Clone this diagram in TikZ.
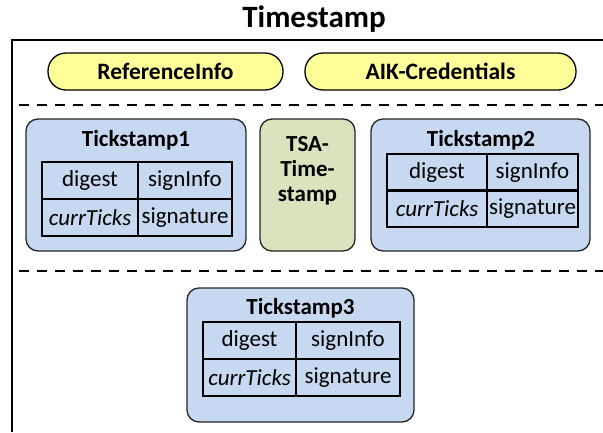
\documentclass[tikz,border=0pt]{standalone}
\usepackage{fontspec}
\setmainfont{Carlito}
\usetikzlibrary{positioning}
\definecolor{pillyellow}{HTML}{FFFF99}
\definecolor{tsblue}{HTML}{C6D9F1}
\definecolor{tsgreen}{HTML}{D7E4BD}
\definecolor{edgegray}{HTML}{262626}
\tikzset{
  frameline/.style={line width=1.8pt, black},
  sepline/.style={line width=2.2pt, black, dash pattern=on 10pt off 8pt},
  pill/.style={draw=black, line width=1.3pt, fill=pillyellow, rounded corners=18pt, inner sep=0pt, font=\fontsize{23.5}{25}\selectfont\bfseries},
  tsbox/.style={draw=edgegray, line width=1.3pt, fill=tsblue, rounded corners=12pt, inner sep=0pt},
  tsagreen/.style={draw=edgegray, line width=1.3pt, fill=tsgreen, rounded corners=12pt, inner sep=0pt},
  boxtitle/.style={inner sep=0pt, font=\fontsize{23}{25}\selectfont\bfseries},
  cell/.style={draw=black, line width=1.3pt, inner sep=0pt, minimum height=37pt, font=\fontsize{23}{25}\selectfont},
  maintitle/.style={inner sep=0pt, font=\fontsize{31}{33}\selectfont\bfseries},
}
\begin{document}
\begin{tikzpicture}[x=1pt, y=-1pt]
\useasboundingbox (0,0) rectangle (603,432);
% title and frame
\node[maintitle] (title) at (314,19) {Timestamp};
\coordinate (ftl) at (12,40);
\coordinate (ftr) at (603,40);
\coordinate (fbl) at (12,432);
\draw[frameline] (ftr) -- (ftl) -- (fbl);
% pills
\node[pill, minimum width=235pt, minimum height=37pt] (ref) at (165.5,71.5) {ReferenceInfo};
\node[pill, minimum width=271pt, minimum height=37pt] (aik) at (440.5,71.5) {AIK-Credentials};
% separators
\coordinate (s1a) at (19,105); \coordinate (s1b) at (603,105);
\coordinate (s2a) at (19,271); \coordinate (s2b) at (603,271);
\draw[sepline] (s1a) -- (s1b);
\draw[sepline] (s2a) -- (s2b);
% Tickstamp1
\node[tsbox, minimum width=220pt, minimum height=132pt] (ts1) at (136,185) {};
\node[boxtitle] (ts1t) at (136,140) {Tickstamp1};
\node[cell, minimum width=96pt] (ts1a) at (90,180.5) {digest};
\node[cell, minimum width=94pt] (ts1b) at (185,180.5) {signInfo};
\node[cell, minimum width=96pt] (ts1c) at (90,217.5) {\itshape currTicks};
\node[cell, minimum width=94pt] (ts1d) at (185,217.5) {signature};
% TSA
\node[tsagreen, minimum width=95pt, minimum height=132pt] (tsa) at (307.5,185) {};
\node[boxtitle, align=center] (tsat) at (307.5,171) {TSA-\\[0pt]Time-\\[0pt]stamp};
% Tickstamp2
\node[tsbox, minimum width=219pt, minimum height=132pt] (ts2) at (480.5,185) {};
\node[boxtitle] (ts2t) at (481,140) {Tickstamp2};
\node[cell, minimum width=100pt] (ts2a) at (437,172.5) {digest};
\node[cell, minimum width=91pt] (ts2b) at (532.5,172.5) {signInfo};
\node[cell, minimum width=100pt] (ts2c) at (437,208.5) {\itshape currTicks};
\node[cell, minimum width=91pt] (ts2d) at (532.5,208.5) {signature};
% Tickstamp3
\node[tsbox, minimum width=227pt, minimum height=134pt] (ts3) at (300.5,355) {};
\node[boxtitle] (ts3t) at (300.5,308) {Tickstamp3};
\node[cell, minimum width=93pt] (ts3a) at (249.5,340.5) {digest};
\node[cell, minimum width=104pt] (ts3b) at (348,340.5) {signInfo};
\node[cell, minimum width=93pt] (ts3c) at (249.5,377.5) {\itshape currTicks};
\node[cell, minimum width=104pt] (ts3d) at (348,377.5) {signature};
\end{tikzpicture}
\end{document}
